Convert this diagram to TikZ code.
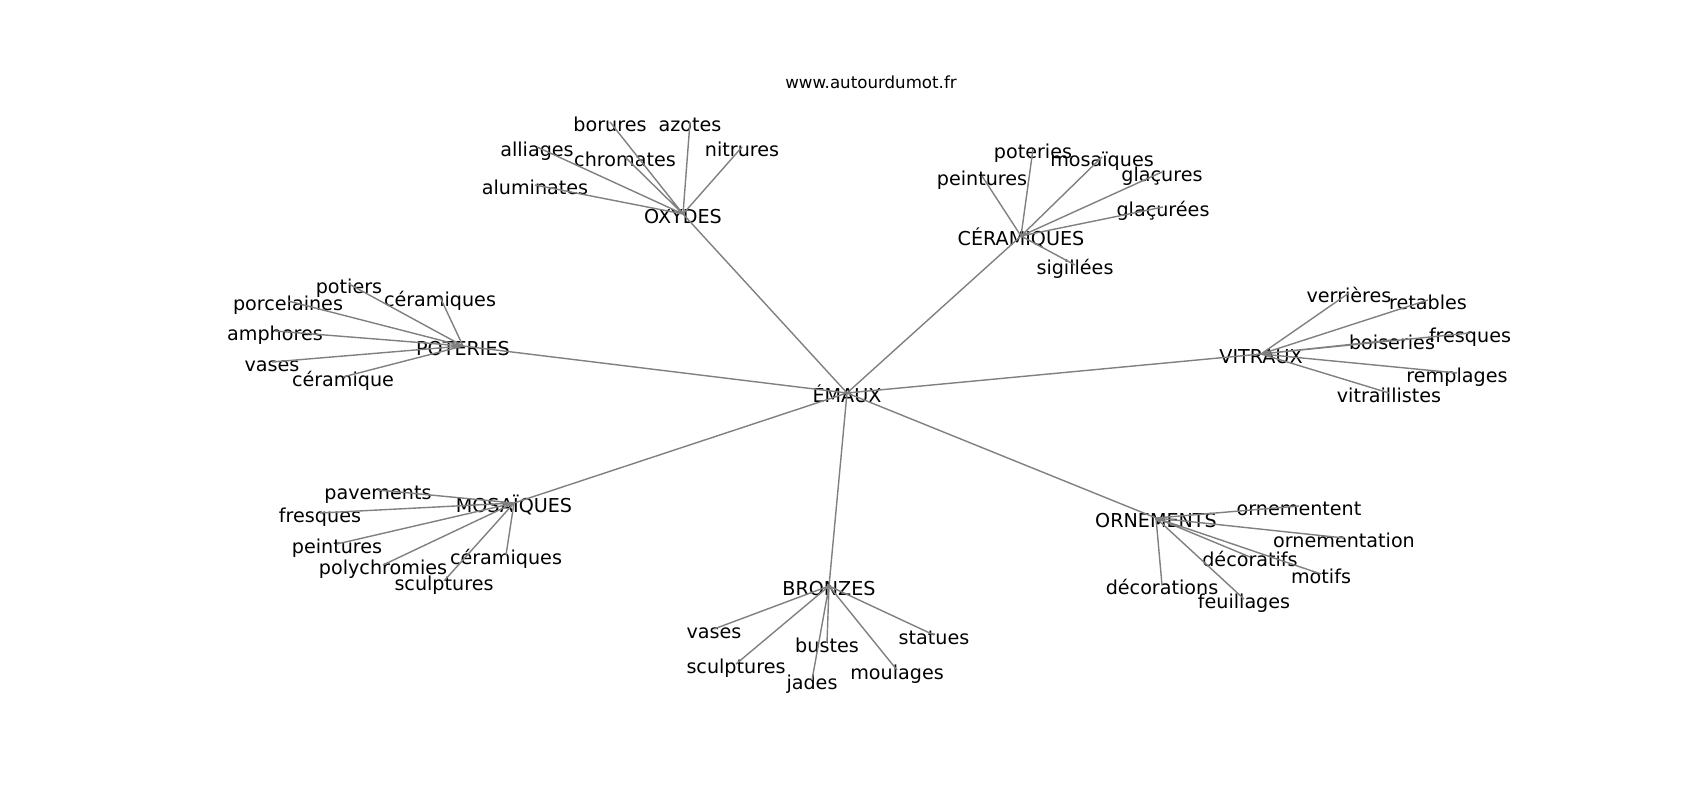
\documentclass[tikz,border=0pt]{standalone}
\usepackage{fontspec}
\setmainfont{DejaVu Sans}
\usepackage{tikz}
\usetikzlibrary{positioning}

\tikzset{
	word/.style={inner sep=0pt, text height=0.75em, text depth=0.2em,
		font=\fontsize{5.45}{6.5}\selectfont},
	edge/.style={draw=gray, line width=0.4pt}
}

\begin{document}
\begin{tikzpicture}
	
	% Page of 17cm x 8cm, 1cm = 100px of the figure
	\useasboundingbox (0,0) rectangle (17,-8);
	
	\node[inner sep=0pt, font=\fontsize{4.74}{5.7}\selectfont] (T) at (8.71,-0.82) {www.autourdumot.fr};
	
	% Centre word
	\node[word] (E) at (8.47,-3.93) {ÉMAUX};
	
	% The seven hubs round it
	\node[word] (OX) at (6.83,-2.14) {OXYDES};
	\node[word] (CE) at (10.21,-2.36) {CÉRAMIQUES};
	\node[word] (PO) at (4.63,-3.46) {POTERIES};
	\node[word] (VI) at (12.61,-3.54) {VITRAUX};
	\node[word] (MO) at (5.14,-5.03) {MOSAÏQUES};
	\node[word] (BR) at (8.29,-5.86) {BRONZES};
	\node[word] (OR) at (11.56,-5.18) {ORNEMENTS};
	
	% Leaves of OXYDES
	\node[word] (OX1) at (6.10,-1.22) {borures};
	\node[word] (OX2) at (6.90,-1.22) {azotes};
	\node[word] (OX3) at (5.37,-1.47) {alliages};
	\node[word] (OX4) at (6.25,-1.57) {chromates};
	\node[word] (OX5) at (7.42,-1.47) {nitrures};
	\node[word] (OX6) at (5.35,-1.85) {aluminates};
	
	% Leaves of CERAMIQUES
	\node[word] (CE1) at (10.33,-1.49) {poteries};
	\node[word] (CE2) at (11.02,-1.57) {mosaïques};
	\node[word] (CE3) at (9.82,-1.76) {peintures};
	\node[word] (CE4) at (11.62,-1.72) {glaçures};
	\node[word] (CE5) at (11.63,-2.07) {glaçurées};
	\node[word] (CE6) at (10.75,-2.65) {sigillées};
	
	% Leaves of POTERIES
	\node[word] (PO1) at (3.49,-2.84) {potiers};
	\node[word] (PO2) at (4.40,-2.97) {céramiques};
	\node[word] (PO3) at (2.88,-3.01) {porcelaines};
	\node[word] (PO4) at (2.75,-3.31) {amphores};
	\node[word] (PO5) at (2.72,-3.62) {vases};
	\node[word] (PO6) at (3.43,-3.77) {céramique};
	
	% Leaves of VITRAUX
	\node[word] (VI1) at (13.49,-2.93) {verrières};
	\node[word] (VI2) at (14.28,-3.00) {retables};
	\node[word] (VI3) at (13.92,-3.40) {boiseries};
	\node[word] (VI4) at (14.70,-3.33) {fresques};
	\node[word] (VI5) at (14.57,-3.73) {remplages};
	\node[word] (VI6) at (13.89,-3.93) {vitraillistes};
	
	% Leaves of MOSAIQUES
	\node[word] (MO1) at (3.78,-4.90) {pavements};
	\node[word] (MO2) at (3.20,-5.13) {fresques};
	\node[word] (MO3) at (3.37,-5.44) {peintures};
	\node[word] (MO4) at (3.83,-5.65) {polychromies};
	\node[word] (MO5) at (5.06,-5.55) {céramiques};
	\node[word] (MO6) at (4.44,-5.81) {sculptures};
	
	% Leaves of BRONZES
	\node[word] (BR1) at (7.14,-6.29) {vases};
	\node[word] (BR2) at (7.36,-6.64) {sculptures};
	\node[word] (BR3) at (8.27,-6.43) {bustes};
	\node[word] (BR4) at (8.12,-6.80) {jades};
	\node[word] (BR5) at (8.97,-6.70) {moulages};
	\node[word] (BR6) at (9.34,-6.35) {statues};
	
	% Leaves of ORNEMENTS
	\node[word] (OR1) at (12.99,-5.06) {ornementent};
	\node[word] (OR2) at (13.44,-5.38) {ornementation};
	\node[word] (OR3) at (12.50,-5.57) {décoratifs};
	\node[word] (OR4) at (13.21,-5.74) {motifs};
	\node[word] (OR5) at (11.62,-5.85) {décorations};
	\node[word] (OR6) at (12.44,-5.99) {feuillages};
	
	%%%%%%%%%%%%%%%%%%%%%%%%%%%%%%%%%%%%%%%%%%%%%%%%%%%%%%%%%%%%%%
	% Edges, centre to centre
	
	\draw[edge] (E.center) -- (OX.center)
				(E.center) -- (CE.center)
				(E.center) -- (PO.center)
				(E.center) -- (VI.center)
				(E.center) -- (MO.center)
				(E.center) -- (BR.center)
				(E.center) -- (OR.center);
	
	\draw[edge] (OX.center) -- (OX1.center) (OX.center) -- (OX2.center)
				(OX.center) -- (OX3.center) (OX.center) -- (OX4.center)
				(OX.center) -- (OX5.center) (OX.center) -- (OX6.center);
	
	\draw[edge] (CE.center) -- (CE1.center) (CE.center) -- (CE2.center)
				(CE.center) -- (CE3.center) (CE.center) -- (CE4.center)
				(CE.center) -- (CE5.center) (CE.center) -- (CE6.center);
	
	\draw[edge] (PO.center) -- (PO1.center) (PO.center) -- (PO2.center)
				(PO.center) -- (PO3.center) (PO.center) -- (PO4.center)
				(PO.center) -- (PO5.center) (PO.center) -- (PO6.center);
	
	\draw[edge] (VI.center) -- (VI1.center) (VI.center) -- (VI2.center)
				(VI.center) -- (VI3.center) (VI.center) -- (VI4.center)
				(VI.center) -- (VI5.center) (VI.center) -- (VI6.center);
	
	\draw[edge] (MO.center) -- (MO1.center) (MO.center) -- (MO2.center)
				(MO.center) -- (MO3.center) (MO.center) -- (MO4.center)
				(MO.center) -- (MO5.center) (MO.center) -- (MO6.center);
	
	\draw[edge] (BR.center) -- (BR1.center) (BR.center) -- (BR2.center)
				(BR.center) -- (BR3.center) (BR.center) -- (BR4.center)
				(BR.center) -- (BR5.center) (BR.center) -- (BR6.center);
	
	\draw[edge] (OR.center) -- (OR1.center) (OR.center) -- (OR2.center)
				(OR.center) -- (OR3.center) (OR.center) -- (OR4.center)
				(OR.center) -- (OR5.center) (OR.center) -- (OR6.center);
	
\end{tikzpicture}
\end{document}
